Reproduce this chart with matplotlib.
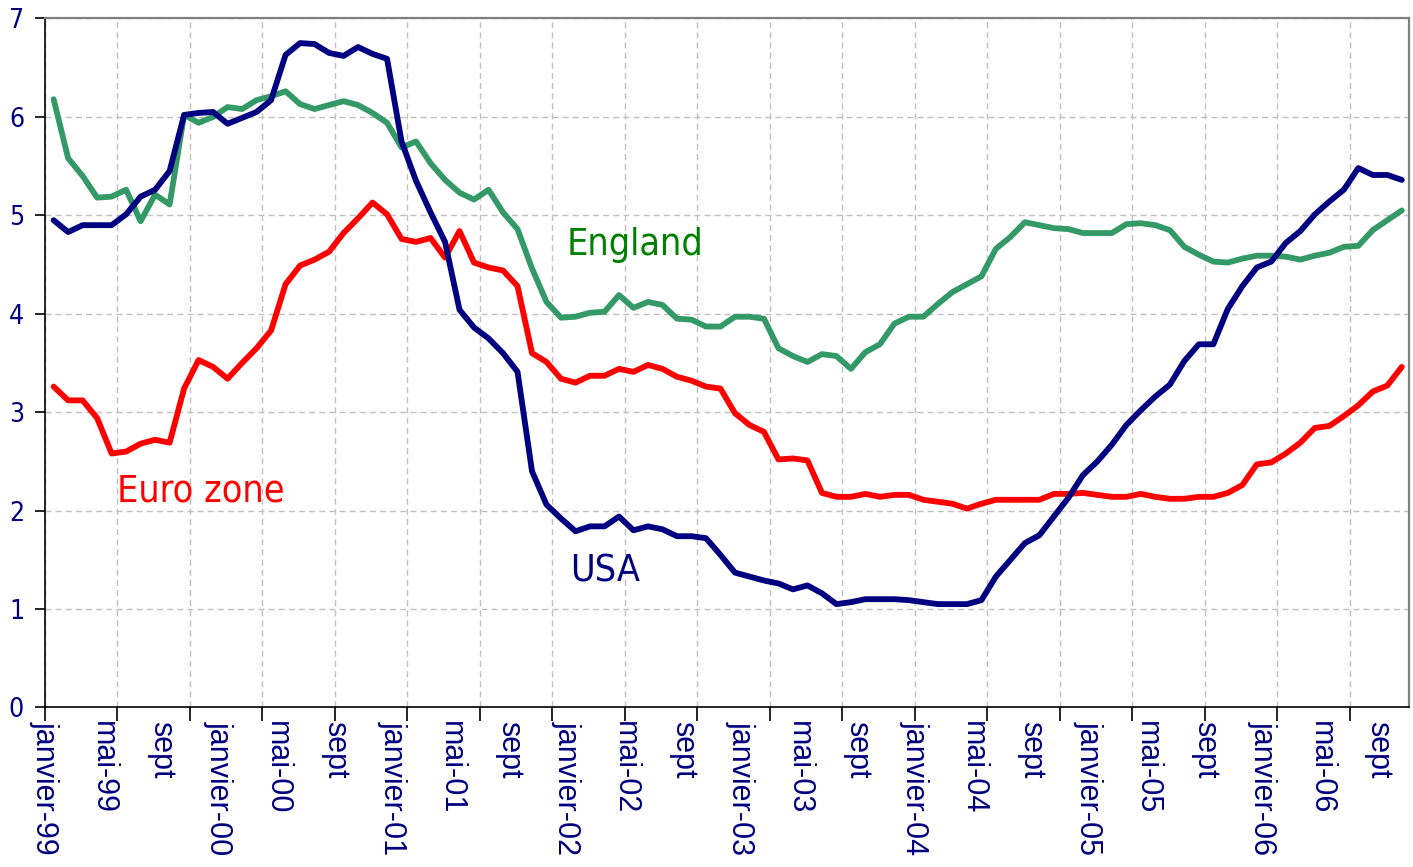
"""Long-term interest rates: USA, Euro zone and England, 1999-2006."""

import matplotlib

matplotlib.use("Agg")
import matplotlib.pyplot as plt
import numpy as np

# monthly values, janvier-99 onwards
usa = [
    4.95, 4.83, 4.90, 4.90, 4.90, 5.01, 5.19, 5.26, 5.45, 6.02, 6.04, 6.05,
    5.93, 5.99, 6.05, 6.17, 6.63, 6.75, 6.74, 6.65, 6.62, 6.71, 6.64, 6.59,
    5.75, 5.35, 5.03, 4.73, 4.04, 3.86, 3.75, 3.60, 3.41, 2.40, 2.06, 1.92,
    1.79, 1.84, 1.84, 1.94, 1.80, 1.84, 1.81, 1.74, 1.74, 1.72, 1.55, 1.37,
    1.33, 1.29, 1.26, 1.20, 1.24, 1.16, 1.05, 1.07, 1.10, 1.10, 1.10, 1.09,
    1.07, 1.05, 1.05, 1.05, 1.09, 1.33, 1.50, 1.67, 1.75, 1.94, 2.13, 2.36,
    2.50, 2.67, 2.87, 3.02, 3.16, 3.28, 3.52, 3.69, 3.69, 4.05, 4.28, 4.47,
    4.53, 4.72, 4.84, 5.01, 5.14, 5.26, 5.48, 5.41, 5.41, 5.36,
]
euro_zone = [
    3.26, 3.12, 3.12, 2.94, 2.58, 2.60, 2.68, 2.72, 2.69, 3.24, 3.53, 3.46,
    3.34, 3.50, 3.65, 3.83, 4.30, 4.49, 4.55, 4.63, 4.82, 4.97, 5.13, 5.01,
    4.76, 4.73, 4.77, 4.57, 4.84, 4.52, 4.47, 4.44, 4.28, 3.60, 3.51, 3.34,
    3.30, 3.37, 3.37, 3.44, 3.41, 3.48, 3.44, 3.36, 3.32, 3.26, 3.24, 2.99,
    2.87, 2.80, 2.52, 2.53, 2.51, 2.18, 2.14, 2.14, 2.17, 2.14, 2.16, 2.16,
    2.11, 2.09, 2.07, 2.02, 2.07, 2.11, 2.11, 2.11, 2.11, 2.17, 2.17, 2.18,
    2.16, 2.14, 2.14, 2.17, 2.14, 2.12, 2.12, 2.14, 2.14, 2.18, 2.26, 2.47,
    2.49, 2.58, 2.69, 2.84, 2.86, 2.96, 3.07, 3.21, 3.27, 3.46,
]
england = [
    6.18, 5.58, 5.40, 5.18, 5.19, 5.26, 4.94, 5.21, 5.11, 6.02, 5.94, 6.00,
    6.10, 6.08, 6.17, 6.21, 6.26, 6.13, 6.08, 6.12, 6.16, 6.12, 6.04, 5.94,
    5.69, 5.75, 5.53, 5.36, 5.23, 5.16, 5.26, 5.03, 4.86, 4.46, 4.12, 3.96,
    3.97, 4.01, 4.02, 4.19, 4.06, 4.12, 4.09, 3.95, 3.94, 3.87, 3.87, 3.97,
    3.97, 3.95, 3.65, 3.57, 3.51, 3.59, 3.57, 3.44, 3.61, 3.69, 3.90, 3.97,
    3.97, 4.10, 4.22, 4.30, 4.38, 4.66, 4.78, 4.93, 4.90, 4.87, 4.86, 4.82,
    4.82, 4.82, 4.91, 4.92, 4.90, 4.85, 4.68, 4.60, 4.53, 4.52, 4.56, 4.59,
    4.59, 4.58, 4.55, 4.59, 4.62, 4.68, 4.69, 4.85, 4.95, 5.05,
]
month_labels = [
    "janvier-99", "mai-99", "sept",
    "janvier-00", "mai-00", "sept",
    "janvier-01", "mai-01", "sept",
    "janvier-02", "mai-02", "sept",
    "janvier-03", "mai-03", "sept",
    "janvier-04", "mai-04", "sept",
    "janvier-05", "mai-05", "sept",
    "janvier-06", "mai-06", "sept",
]

NAVY = "#000080"
NARROW = dict(family="DejaVu Sans", fontstretch="condensed")

fig = plt.figure(figsize=(14.13, 8.67), dpi=100)
ax = fig.add_axes([0.0318, 0.184, 0.9654, 0.7947])

x = np.arange(len(usa)) + 0.6
line_style = dict(linewidth=4.2, solid_joinstyle="round", solid_capstyle="round")
ax.plot(x, england, color="#339966", **line_style)
ax.plot(x, euro_zone, color="#ff0000", **line_style)
ax.plot(x, usa, color=NAVY, **line_style)

ax.text(36.0, 4.60, "England", color="#008000", fontsize=27, va="baseline", **NARROW)
ax.text(4.94, 2.09, "Euro zone", color="#ff0000", fontsize=27, va="baseline", **NARROW)
ax.text(36.2, 1.28, "USA", color=NAVY, fontsize=27, va="baseline", **NARROW)

ax.set_xlim(0, 94.1)
ax.set_ylim(0, 7)

# labels every 4 months, tick marks and gridlines every 5 months
ax.xaxis.remove_overlapping_locs = False
ax.set_xticks(np.arange(len(month_labels)) * 4)
ax.set_xticklabels(month_labels, rotation=270, ha="center", va="top",
                   family="Liberation Sans", fontsize=22, color=NAVY)
ax.set_xticks(np.arange(0, 94, 5), minor=True)
ax.tick_params(axis="x", which="major", length=0, pad=10)
ax.tick_params(axis="x", which="minor", length=10, width=1.2, direction="out")

ax.set_yticks(range(0, 8))
ax.set_yticklabels([str(v) for v in range(0, 8)], fontsize=19, color=NAVY, **NARROW)
ax.tick_params(axis="y", length=7, width=1.2, pad=8)

ax.set_axisbelow(True)
grid_style = dict(color="#c0c0c0", linewidth=1.0, linestyle=(0, (4.3, 3)))
ax.grid(axis="x", which="minor", **grid_style)
ax.grid(axis="y", which="major", **grid_style)
ax.grid(axis="x", which="major", visible=False)

for side in ("top", "right"):
    ax.spines[side].set_color("#808080")
    ax.spines[side].set_linewidth(1.6)
for side in ("left", "bottom"):
    ax.spines[side].set_color("black")
    ax.spines[side].set_linewidth(1.2)

fig.savefig("out.png", dpi=100)
